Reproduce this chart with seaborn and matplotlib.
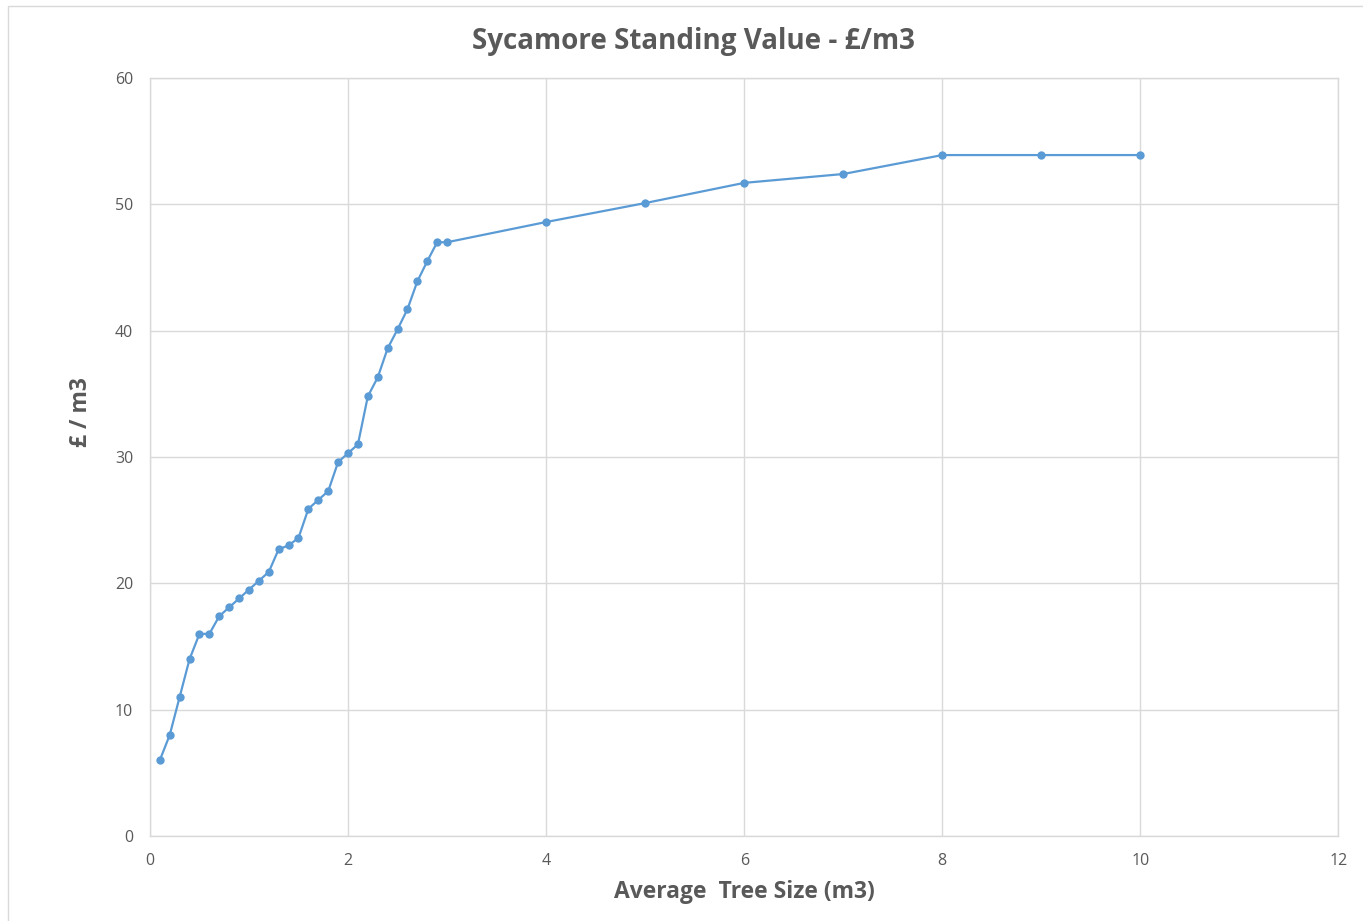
import matplotlib
matplotlib.use('Agg')

import pandas as pd
import matplotlib.pyplot as plt
import seaborn as sns
from matplotlib.patches import Rectangle

# DATA
tree_size = [0.1, 0.2, 0.3, 0.4, 0.5, 0.6, 0.7, 0.8, 0.9, 1.0,
             1.1, 1.2, 1.3, 1.4, 1.5, 1.6, 1.7, 1.8, 1.9, 2.0,
             2.1, 2.2, 2.3, 2.4, 2.5, 2.6, 2.7, 2.8, 2.9, 3.0,
             4, 5, 6, 7, 8, 9, 10]
value_per_m3 = [6.0, 8.0, 11.0, 14.0, 16.0, 16.0, 17.4, 18.1, 18.8, 19.5,
                20.2, 20.9, 22.7, 23.0, 23.6, 25.9, 26.6, 27.3, 29.6, 30.3,
                31.0, 34.8, 36.3, 38.6, 40.1, 41.7, 43.9, 45.5, 47.0, 47.0,
                48.6, 50.1, 51.7, 52.4, 53.9, 53.9, 53.9]
x_ticks = [0, 2, 4, 6, 8, 10, 12]
y_ticks = [0, 10, 20, 30, 40, 50, 60]

df = pd.DataFrame({"size": tree_size, "value": value_per_m3})

sns.set_style("white")
plt.rcParams["font.family"] = ["Open Sans", "DejaVu Sans"]

fig = plt.figure(figsize=(13.63, 9.21), dpi=100)
ax = fig.add_axes([0.110, 0.0923, 0.872, 0.8230])

# chart border like the spreadsheet frame
fig.patches.append(Rectangle((0.006, -0.01), 1.2, 1.003, transform=fig.transFigure,
                             fill=False, edgecolor="#d9d9d9", linewidth=1))

sns.lineplot(data=df, x="size", y="value", ax=ax, color="#5b9bd5",
             linewidth=1.6, marker="o", markersize=6, markeredgewidth=0,
             estimator=None, sort=False)

ax.set_xlim(0, 12)
ax.set_ylim(0, 60)
ax.set_xticks(x_ticks)
ax.set_yticks(y_ticks)
ax.grid(True, color="#d9d9d9", linewidth=1)
ax.tick_params(length=0, labelsize=11.5, labelcolor="#595959", pad=12)
for s in ax.spines.values():
    s.set_color("#d9d9d9")
    s.set_linewidth(1)

# title is centred on the whole chart, not the plot area
fig.text(0.509, 0.955, "Sycamore Standing Value - £/m3", fontsize=20,
         fontweight="bold", color="#595959", ha="center", va="center")
ax.set_xlabel("Average  Tree Size (m3)", fontsize=16.5, fontweight="bold",
              color="#595959", labelpad=8)
ax.set_ylabel("£ / m3", fontsize=16.5, fontweight="bold", color="#595959")
ax.yaxis.set_label_coords(-0.048, 0.559)

plt.savefig("out.png", dpi=100)
plt.close()
